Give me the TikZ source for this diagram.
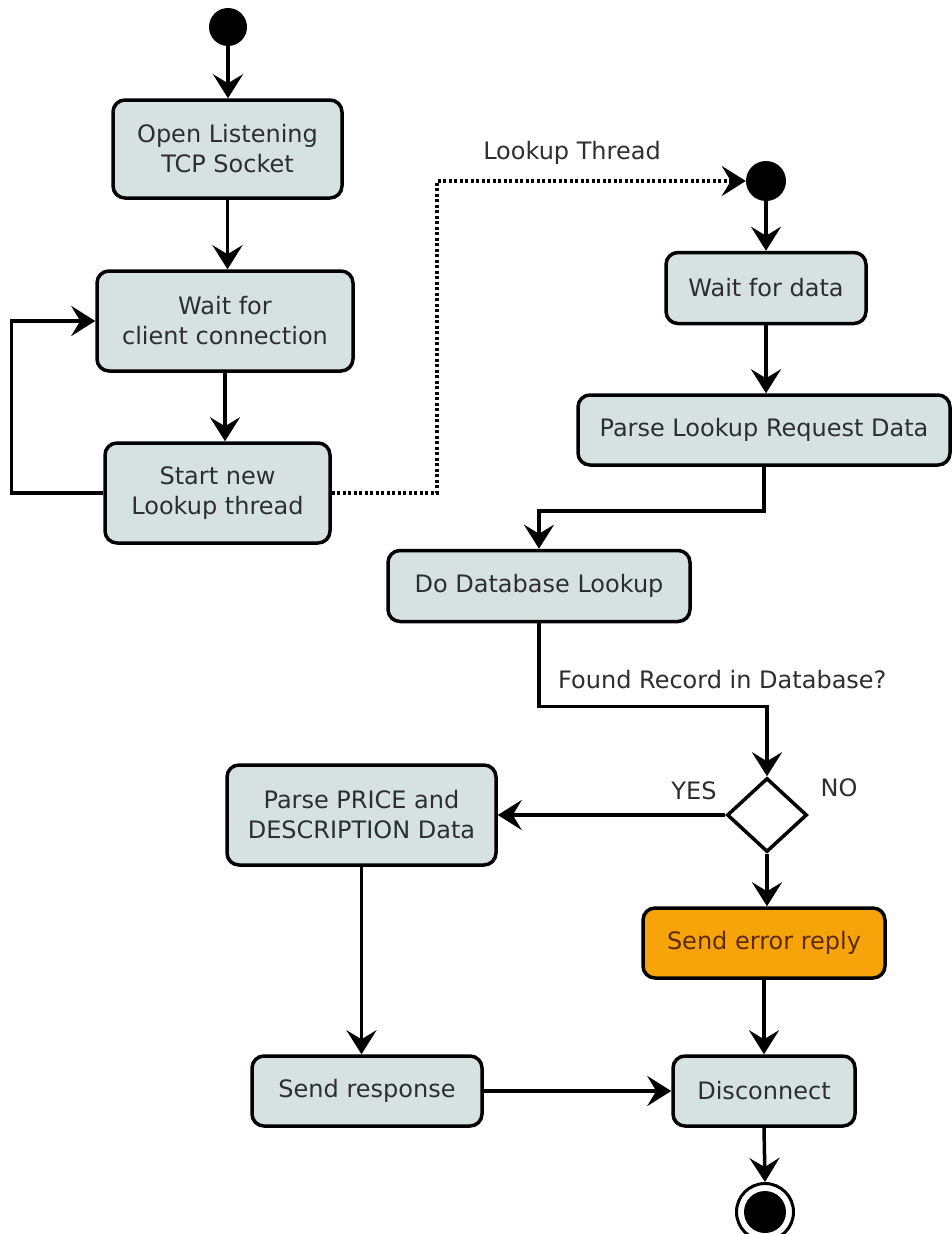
\documentclass[tikz,border=0pt]{standalone}
\usepackage{fontspec}
\setmainfont{DejaVu Sans}
\usetikzlibrary{arrows.meta,shapes.geometric}
\definecolor{boxfill}{HTML}{D6E2E2}
\definecolor{txt}{HTML}{2E2E2E}
\definecolor{errfill}{HTML}{F7A30A}
\definecolor{errtxt}{HTML}{5A2A0A}
\tikzset{
  actbox/.style={draw=black, line width=3.5pt, fill=boxfill, rounded corners=12pt,
    align=center, inner sep=0pt, text=txt, font=\fontsize{24}{30}\selectfont},
  errbox/.style={actbox, fill=errfill, text=errtxt},
  startdot/.style={circle, fill=black, inner sep=0pt, minimum size=38pt},
  enddot/.style={circle, draw=black, line width=3pt, fill=white, inner sep=0pt, minimum size=57pt},
  decision/.style={diamond, draw=black, line width=3.5pt, fill=white, inner sep=0pt,
    minimum width=80pt, minimum height=74pt},
  lbl/.style={text=txt, font=\fontsize{24}{30}\selectfont, inner sep=0pt},
  flow/.style={line width=3.5pt, -{Stealth[length=24pt,width=30pt,inset=9pt]}},
  threadflow/.style={flow, dash pattern=on 3pt off 2.5pt},
}
\begin{document}
\begin{tikzpicture}[x=1pt,y=-1pt]
\fill[white] (0,0) rectangle (952,1234);
\useasboundingbox (0,0) rectangle (952,1234);

% left column
\node[startdot] (s1) at (228,27) {};
\node[actbox, minimum width=229pt, minimum height=98pt] (b1) at (227.5,149) {Open Listening\\TCP Socket};
\node[actbox, minimum width=256pt, minimum height=100pt] (b2) at (225,321) {Wait for\\client connection};
\node[actbox, minimum width=225pt, minimum height=100pt] (b3) at (217.5,493) {Start new\\Lookup thread};

% right column
\node[startdot, minimum size=40pt] (s2) at (766,181) {};
\node[actbox, minimum width=200pt, minimum height=71pt] (b4) at (766,288) {Wait for data};
\node[actbox, minimum width=372pt, minimum height=70pt] (b5) at (764,430) {Parse Lookup Request Data};
\node[actbox, minimum width=302pt, minimum height=71pt] (b6) at (539,586) {Do Database Lookup};
\node[decision] (d) at (767,815) {};
\node[actbox, minimum width=269pt, minimum height=100pt] (b7) at (361.5,815) {Parse PRICE and\\DESCRIPTION Data};
\node[errbox, minimum width=242pt, minimum height=70pt] (b8) at (764,943) {Send error reply};
\node[actbox, minimum width=230pt, minimum height=70pt] (b9) at (367,1091) {Send response};
\node[actbox, minimum width=182pt, minimum height=70pt] (b10) at (764,1091) {Disconnect};
\node[enddot] (e) at (765,1212) {};
\fill[black] (e.center) circle (21);

% labels
\node[lbl] (lt) at (572,153) {Lookup Thread};
\node[lbl, anchor=west] (fr) at (558,680) {Found Record in Database?};
\node[lbl] (yes) at (694,791) {YES};
\node[lbl] (no) at (839,788) {NO};

% connectors
\draw[flow] (s1) -- (s1 |- b1.north);
\draw[flow] (b1.south) -- (b1.south |- b2.north);
\draw[flow] (b2.south) -- (b2.south |- b3.north);
\draw[flow] (b3.west) -- ++(-92,0) |- (b2.west);
\draw[threadflow] (b3.east) -- ++(105,0) |- (s2.west);
\draw[flow] (s2) -- (s2 |- b4.north);
\draw[flow] (b4.south) -- (b4.south |- b5.north);
\draw[flow] (b5.south) -- ++(0,44) -| (b6.north);
\draw[flow] (b6.south) -- ++(0,83) -| (d.north);
\draw[flow] (d.west) -- (d.west -| b7.east);
\draw[flow] (d.south) -- (d.south |- b8.north);
\draw[flow] (b7.south) -- (b7.south |- b9.north);
\draw[flow] (b9.east) -- (b9.east -| b10.west);
\draw[flow] (b8.south) -- (b8.south |- b10.north);
\draw[flow] (b10.south) -- (e.north);
\end{tikzpicture}
\end{document}
